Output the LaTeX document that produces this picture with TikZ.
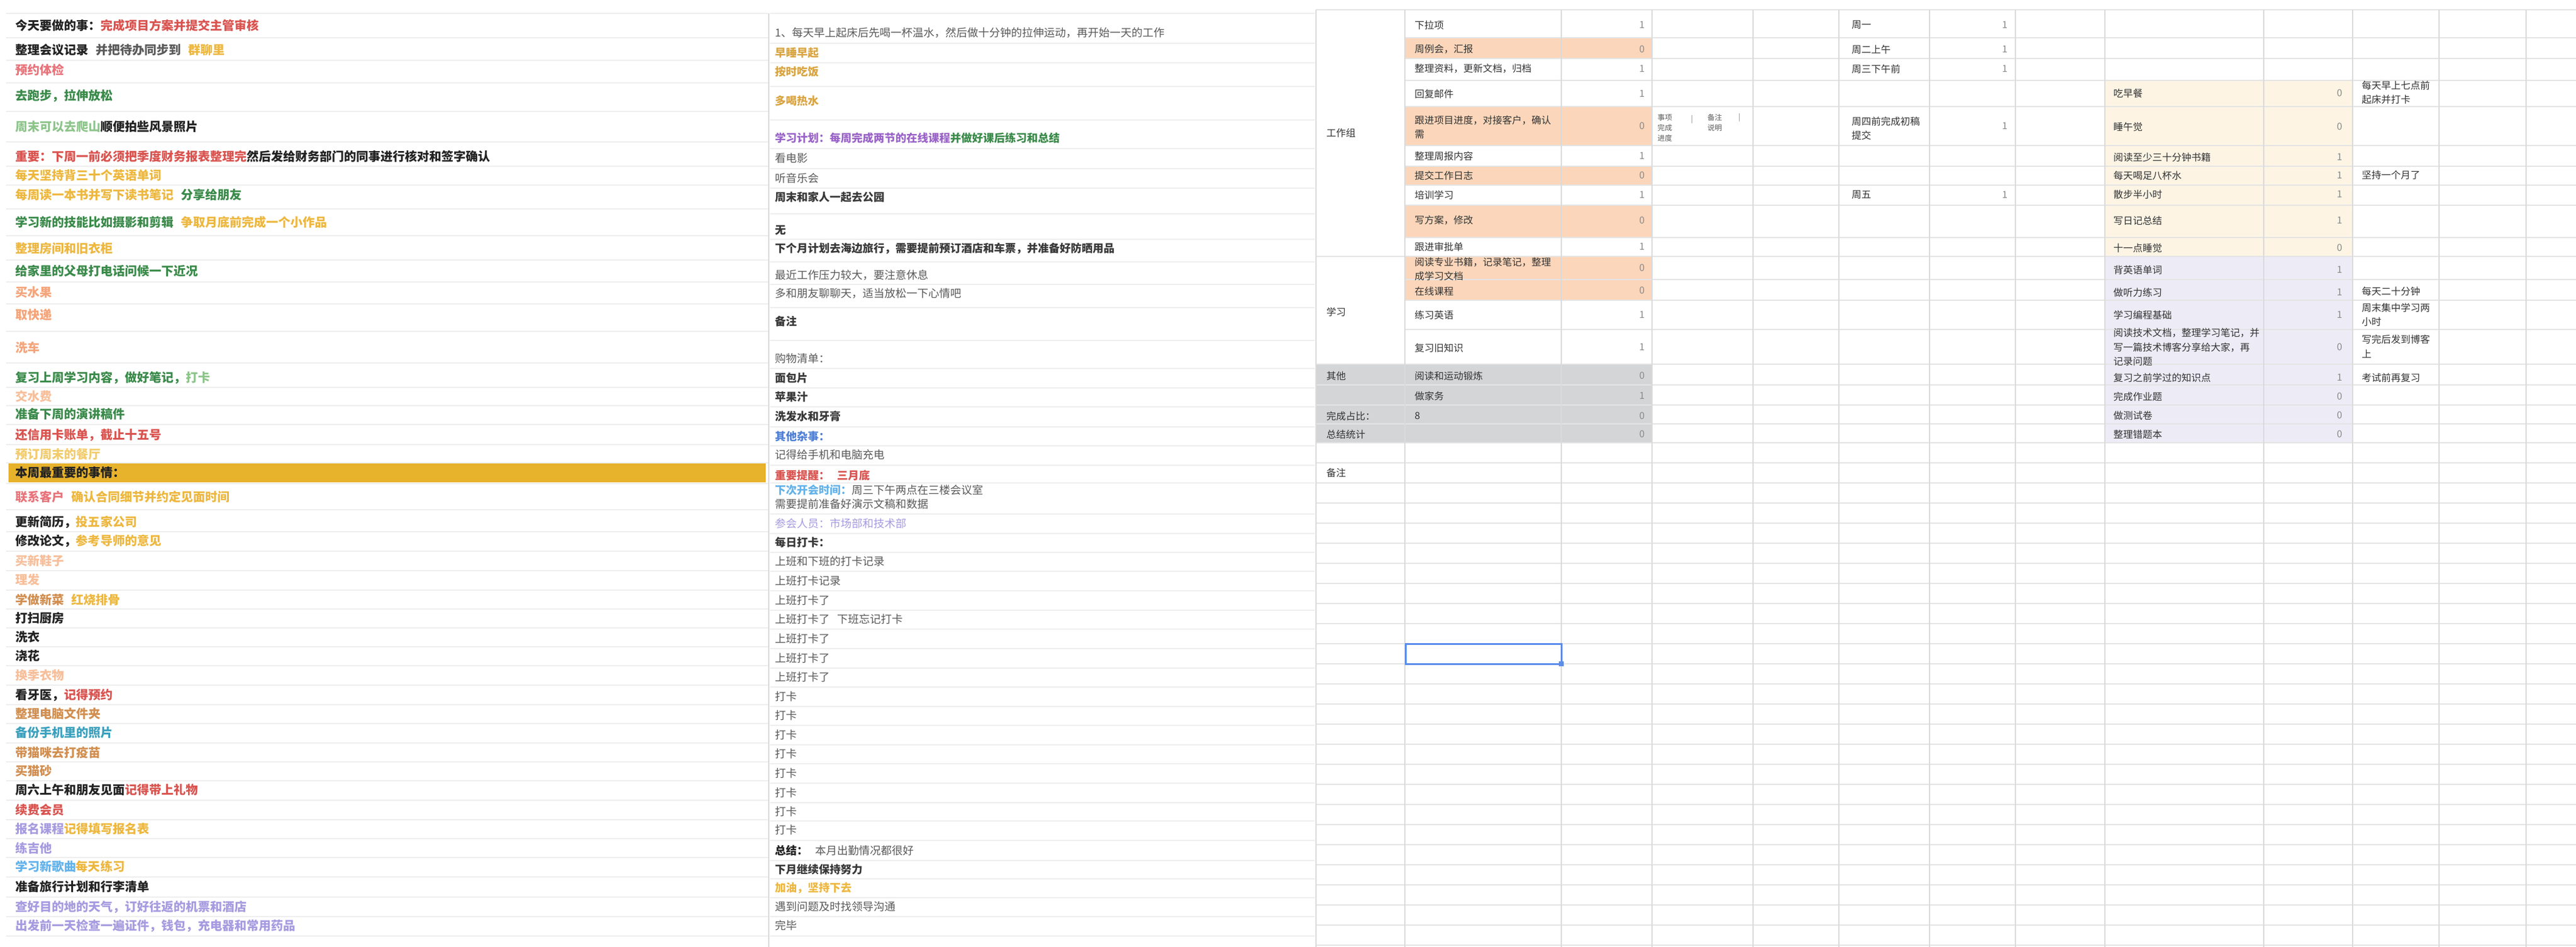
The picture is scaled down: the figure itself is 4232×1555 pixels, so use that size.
\documentclass[tikz,border=0pt]{standalone}
\usepackage{fontspec}
\setmainfont{Noto Sans CJK SC}
\definecolor{cK}{HTML}{222222}
\definecolor{cDK}{HTML}{383838}
\definecolor{cG}{HTML}{5A5A5A}
\definecolor{cT}{HTML}{333333}
\definecolor{cR}{HTML}{D9534F}
\definecolor{cPk}{HTML}{E8737A}
\definecolor{cY}{HTML}{EDB73E}
\definecolor{cLY}{HTML}{F2CB6B}
\definecolor{cBY}{HTML}{D9A441}
\definecolor{cGn}{HTML}{3A8A4A}
\definecolor{cLGn}{HTML}{8CC48A}
\definecolor{cO}{HTML}{F4A47A}
\definecolor{cLO}{HTML}{F7BE9A}
\definecolor{cBr}{HTML}{D18E4F}
\definecolor{cLv}{HTML}{A79BE0}
\definecolor{cPu}{HTML}{9A63C8}
\definecolor{cBl}{HTML}{4E7FD6}
\definecolor{cTl}{HTML}{3AA0BE}
\definecolor{cLB}{HTML}{62B2EA}
\definecolor{numc}{HTML}{8A8A8A}
\definecolor{fillO}{HTML}{FCD6BA}
\definecolor{fillGr}{HTML}{D4D5D7}
\definecolor{fillCr}{HTML}{FDF4E4}
\definecolor{fillLv}{HTML}{EDEBF6}
\definecolor{barY}{HTML}{E7B22C}
\definecolor{gridc}{HTML}{E4E4E4}
\definecolor{gridl}{HTML}{EEEEEE}
\definecolor{gridd}{HTML}{DADADA}
\definecolor{selB}{HTML}{5B8DEB}
\newcount\mync
\newcommand\mytx[4][]{\global\advance\mync by 1\relax
  \node[txt,#1] (t\the\mync) at (#2,#3) {#4};}
\newcommand\gp{\hspace{12pt}}
\newcommand\fA{\fontsize{20}{24}\selectfont\bfseries}
\newcommand\fB{\fontsize{18}{22}\selectfont}
\newcommand\fR{\fontsize{16}{23.5}\selectfont}
\newcommand\fS{\fontsize{12}{17}\selectfont}
\newcommand\rowA[2]{\mytx[font=\fA]{25}{#1}{#2}}
\newcommand\rowB[2]{\mytx[font=\fB]{1273}{#1}{#2}}
\newcommand\cellR[3]{\mytx[font=\fR,text=cT,align=left]{#1}{#2}{#3}}
\newcommand\numR[3]{\mytx[num]{#1}{#2}{#3}}
\begin{document}
\begin{tikzpicture}[x=1pt,y=-1pt,
  txt/.style={anchor=west,inner sep=0pt,outer sep=0pt},
  num/.style={anchor=east,text=numc,font=\fR},
  gridline/.style={draw=gridc,line width=1.3pt},
  softline/.style={draw=gridl,line width=1.3pt},
  colline/.style={draw=gridd,line width=1.3pt}]
\useasboundingbox (0,0) rectangle (4232,1555);
\fill[white] (0,0) rectangle (4232,1555);
% ---------- fills ----------
\fill[barY] (14,760) rectangle (1258,792);
\fill[fillO] (2308,62) rectangle (2714,96);
\fill[fillO] (2308,175) rectangle (2714,239);
\fill[fillO] (2308,273) rectangle (2714,304);
\fill[fillO] (2308,337) rectangle (2714,390);
\fill[fillO] (2308,421) rectangle (2714,493);
\fill[fillGr] (2162,598) rectangle (2714,727);
\fill[fillCr] (3458,132) rectangle (3865,421);
\fill[fillLv] (3458,421) rectangle (3865,727);
% ---------- grid: column A ----------
\foreach \y in {22,62,99,136,183,233,273,304,343,387,427,463,499,544,596,636,666,697,730,760,794,837,873,905,937,969,1000,1031,1062,1093,1125,1157,1188,1220,1251,1282,1314,1346,1377,1408,1440,1473,1505,1537}
  \draw[softline] (10,\y) -- (1262,\y);
% ---------- grid: column B ----------
\foreach \y in {22,71,103,142,197,244,277,309,351,393,430,467,505,559,605,637,668,701,732,764,793,844,876,907,938,970,1002,1033,1065,1097,1128,1160,1191,1223,1254,1286,1318,1348,1380,1413,1443,1474,1505,1537}
  \draw[softline] (1265,\y) -- (2160,\y);
\draw[colline] (1263,22) -- (1263,1555);
% ---------- grid: right table ----------
\foreach \y in {16,62,96,132,175,239,273,304,337,390,421,459,493,541,598,632,665,696,727,760,793,826,859,892,925,958,991,1024,1057,1090,1123,1156,1189,1222,1255,1288,1321,1354,1387,1420,1453,1486,1519,1552}
  \draw[gridline] (2308,\y) -- (4232,\y);
\foreach \y in {16,421,598,632,665,696,727,760,793,826,859,892,925,958,991,1024,1057,1090,1123,1156,1189,1222,1255,1288,1321,1354,1387,1420,1453,1486,1519,1552}
  \draw[gridline] (2162,\y) -- (2308,\y);
\foreach \x in {2162,2308,2565,2714,2880,3021,3170,3311,3458,3719,3865,4007,4150}
  \draw[colline] (\x,16) -- (\x,1555);
% ---------- column A text ----------
\rowA{42}{\textcolor{cK}{今天要做的事：}\textcolor{cR}{完成项目方案并提交主管审核}}
\rowA{82}{\textcolor{cK}{整理会议记录}\gp\textcolor{cG}{并把待办同步到}\gp\textcolor{cY}{群聊里}}
\rowA{115}{\textcolor{cPk}{预约体检}}
\rowA{157}{\textcolor{cGn}{去跑步，拉伸放松}}
\rowA{208}{\textcolor{cLGn}{周末可以去爬山}\textcolor{cK}{顺便拍些风景照片}}
\rowA{257}{\textcolor{cR}{重要：下周一前必须把季度财务报表整理完}\textcolor{cK}{然后发给财务部门的同事进行核对和签字确认}}
\rowA{288}{\textcolor{cY}{每天坚持背三十个英语单词}}
\rowA{320}{\textcolor{cY}{每周读一本书并写下读书笔记}\gp\textcolor{cGn}{分享给朋友}}
\rowA{365}{\textcolor{cGn}{学习新的技能比如摄影和剪辑}\gp\textcolor{cY}{争取月底前完成一个小作品}}
\rowA{408}{\textcolor{cY}{整理房间和旧衣柜}}
\rowA{445}{\textcolor{cGn}{给家里的父母打电话问候一下近况}}
\rowA{480}{\textcolor{cO}{买水果}}
\rowA{517}{\textcolor{cO}{取快递}}
\rowA{571}{\textcolor{cO}{洗车}}
\rowA{620}{\textcolor{cGn}{复习上周学习内容，做好笔记，}\textcolor{cLGn}{打卡}}
\rowA{651}{\textcolor{cLO}{交水费}}
\rowA{680}{\textcolor{cGn}{准备下周的演讲稿件}}
\rowA{714}{\textcolor{cR}{还信用卡账单，截止十五号}}
\rowA{746}{\textcolor{cLY}{预订周末的餐厅}}
\rowA{776}{\textcolor{cK}{本周最重要的事情：}}
\rowA{816}{\textcolor{cPk}{联系客户}\gp\textcolor{cY}{确认合同细节并约定见面时间}}
\rowA{857}{\textcolor{cK}{更新简历，}\textcolor{cY}{投五家公司}}
\rowA{888}{\textcolor{cK}{修改论文，}\textcolor{cY}{参考导师的意见}}
\rowA{921}{\textcolor{cLO}{买新鞋子}}
\rowA{952}{\textcolor{cLO}{理发}}
\rowA{985}{\textcolor{cBr}{学做新菜}\gp\textcolor{cY}{红烧排骨}}
\rowA{1015}{\textcolor{cK}{打扫厨房}}
\rowA{1046}{\textcolor{cK}{洗衣}}
\rowA{1077}{\textcolor{cK}{浇花}}
\rowA{1109}{\textcolor{cLO}{换季衣物}}
\rowA{1141}{\textcolor{cK}{看牙医，}\textcolor{cR}{记得预约}}
\rowA{1172}{\textcolor{cBr}{整理电脑文件夹}}
\rowA{1203}{\textcolor{cTl}{备份手机里的照片}}
\rowA{1236}{\textcolor{cBr}{带猫咪去打疫苗}}
\rowA{1266}{\textcolor{cBr}{买猫砂}}
\rowA{1297}{\textcolor{cK}{周六上午和朋友见面}\textcolor{cR}{记得带上礼物}}
\rowA{1330}{\textcolor{cR}{续费会员}}
\rowA{1361}{\textcolor{cLv}{报名课程}\textcolor{cY}{记得填写报名表}}
\rowA{1393}{\textcolor{cLv}{练吉他}}
\rowA{1423}{\textcolor{cLB}{学习新歌曲}\textcolor{cY}{每天练习}}
\rowA{1456}{\textcolor{cK}{准备旅行计划和行李清单}}
\rowA{1489}{\textcolor{cLv}{查好目的地的天气，订好往返的机票和酒店}}
\rowA{1520}{\textcolor{cLv}{出发前一天检查一遍证件，钱包，充电器和常用药品}}
% ---------- column B text ----------
\rowB{54}{\textcolor{cG}{1、每天早上起床后先喝一杯温水，然后做十分钟的拉伸运动，再开始一天的工作}}
\rowB{87}{\textcolor{cBY}{\bfseries 早睡早起}}
\rowB{118}{\textcolor{cBY}{\bfseries 按时吃饭}}
\rowB{166}{\textcolor{cBY}{\bfseries 多喝热水}}
\rowB{227}{\textcolor{cPu}{\bfseries 学习计划：每周完成两节的在线课程}\textcolor{cGn}{\bfseries 并做好课后练习和总结}}
\rowB{260}{\textcolor{cG}{看电影}}
\rowB{293}{\textcolor{cG}{听音乐会}}
\rowB{324}{\textcolor{cDK}{\bfseries 周末和家人一起去公园}}
\rowB{378}{\textcolor{cDK}{\bfseries 无}}
\rowB{408}{\textcolor{cDK}{\bfseries 下个月计划去海边旅行，需要提前预订酒店和车票，并准备好防晒用品}}
\rowB{452}{\textcolor{cG}{最近工作压力较大，要注意休息}}
\rowB{482}{\textcolor{cG}{多和朋友聊聊天，适当放松一下心情吧}}
\rowB{528}{\textcolor{cDK}{\bfseries 备注}}
\rowB{589}{\textcolor{cG}{购物清单：}}
\rowB{621}{\textcolor{cDK}{\bfseries 面包片}}
\rowB{652}{\textcolor{cDK}{\bfseries 苹果汁}}
\rowB{684}{\textcolor{cDK}{\bfseries 洗发水和牙膏}}
\rowB{717}{\textcolor{cBl}{\bfseries 其他杂事：}}
\rowB{747}{\textcolor{cG}{记得给手机和电脑充电}}
\rowB{781}{\textcolor{cR}{\bfseries 重要提醒：}\gp\textcolor{cR}{\bfseries 三月底}}
\rowB{805}{\textcolor{cLB}{\bfseries 下次开会时间：}\textcolor{cG}{周三下午两点在三楼会议室}}
\rowB{828}{\textcolor{cG}{需要提前准备好演示文稿和数据}}
\rowB{860}{\textcolor{cLv}{参会人员：市场部和技术部}}
\rowB{891}{\textcolor{cDK}{\bfseries 每日打卡：}}
\rowB{922}{\textcolor{cG}{上班和下班的打卡记录}}
\rowB{954}{\textcolor{cG}{上班打卡记录}}
\rowB{986}{\textcolor{cG}{上班打卡了}}
\rowB{1017}{\textcolor{cG}{上班打卡了}\gp\textcolor{cG}{下班忘记打卡}}
\rowB{1049}{\textcolor{cG}{上班打卡了}}
\rowB{1081}{\textcolor{cG}{上班打卡了}}
\rowB{1112}{\textcolor{cG}{上班打卡了}}
\rowB{1144}{\textcolor{cG}{打卡}}
\rowB{1175}{\textcolor{cG}{打卡}}
\rowB{1207}{\textcolor{cG}{打卡}}
\rowB{1238}{\textcolor{cG}{打卡}}
\rowB{1270}{\textcolor{cG}{打卡}}
\rowB{1302}{\textcolor{cG}{打卡}}
\rowB{1333}{\textcolor{cG}{打卡}}
\rowB{1363}{\textcolor{cG}{打卡}}
\rowB{1397}{\textcolor{cK}{\bfseries 总结：}\gp\textcolor{cG}{本月出勤情况都很好}}
\rowB{1428}{\textcolor{cDK}{\bfseries 下月继续保持努力}}
\rowB{1458}{\textcolor{cY}{\bfseries 加油，坚持下去}}
\rowB{1489}{\textcolor{cG}{遇到问题及时找领导沟通}}
\rowB{1520}{\textcolor{cG}{完毕}}
% ---------- right table: column 1 ----------
\cellR{2179}{218}{工作组}
\cellR{2179}{512}{学习}
\cellR{2179}{617}{其他}
\cellR{2179}{683}{完成占比：}
\cellR{2179}{713}{总结统计}
\cellR{2179}{776}{备注}
% ---------- right table: column 2 ----------
\cellR{2324}{41}{下拉项}
\cellR{2324}{81}{周例会，汇报}
\cellR{2324}{113}{整理资料，更新文档，归档}
\cellR{2324}{154}{回复邮件}
\cellR{2324}{209}{跟进项目进度，对接客户，确认\\需}
\cellR{2324}{256}{整理周报内容}
\cellR{2324}{288}{提交工作日志}
\cellR{2324}{320}{培训学习}
\cellR{2324}{362}{写方案，修改}
\cellR{2324}{405}{跟进审批单}
\cellR{2324}{442}{阅读专业书籍，记录笔记，整理\\成学习文档}
\cellR{2324}{478}{在线课程}
\cellR{2324}{517}{练习英语}
\cellR{2324}{571}{复习旧知识}
\cellR{2324}{617}{阅读和运动锻炼}
\cellR{2324}{650}{做家务}
\cellR{2324}{683}{8}
% ---------- right table: column 3 numbers ----------
\numR{2702}{41}{1}
\numR{2702}{81}{0}
\numR{2702}{113}{1}
\numR{2702}{154}{1}
\numR{2702}{207}{0}
\numR{2702}{256}{1}
\numR{2702}{288}{0}
\numR{2702}{320}{1}
\numR{2702}{362}{0}
\numR{2702}{405}{1}
\numR{2702}{440}{0}
\numR{2702}{477}{0}
\numR{2702}{517}{1}
\numR{2702}{570}{1}
\numR{2702}{617}{0}
\numR{2702}{650}{1}
\numR{2702}{683}{0}
\numR{2702}{713}{0}
% ---------- right table: column 4 small notes ----------
\mytx[font=\fS,text=cG,align=left]{2723}{210}{事项\\完成\\进度}
\mytx[font=\fS,text=numc]{2778}{196}{|}
\mytx[font=\fS,text=cG,align=left]{2805}{201}{备注\\说明}
\mytx[font=\fS,text=numc]{2856}{193}{|}
% ---------- right table: column 6/7 ----------
\cellR{3042}{41}{周一}
\cellR{3042}{81}{周二上午}
\cellR{3042}{113}{周三下午前}
\cellR{3042}{211}{周四前完成初稿\\提交}
\cellR{3042}{320}{周五}
\numR{3298}{41}{1}
\numR{3298}{81}{1}
\numR{3298}{113}{1}
\numR{3298}{207}{1}
\numR{3298}{320}{1}
% ---------- right table: cream / lavender block ----------
\cellR{3472}{153}{吃早餐}
\cellR{3472}{208}{睡午觉}
\cellR{3472}{258}{阅读至少三十分钟书籍}
\cellR{3472}{288}{每天喝足八杯水}
\cellR{3472}{319}{散步半小时}
\cellR{3472}{362}{写日记总结}
\cellR{3472}{407}{十一点睡觉}
\cellR{3472}{443}{背英语单词}
\cellR{3472}{480}{做听力练习}
\cellR{3472}{517}{学习编程基础}
\cellR{3472}{570}{阅读技术文档，整理学习笔记，并\\写一篇技术博客分享给大家，再\\记录问题}
\cellR{3472}{620}{复习之前学过的知识点}
\cellR{3472}{651}{完成作业题}
\cellR{3472}{682}{做测试卷}
\cellR{3472}{713}{整理错题本}
\numR{3848}{153}{0}
\numR{3848}{208}{0}
\numR{3848}{258}{1}
\numR{3848}{288}{1}
\numR{3848}{319}{1}
\numR{3848}{362}{1}
\numR{3848}{407}{0}
\numR{3848}{443}{1}
\numR{3848}{480}{1}
\numR{3848}{517}{1}
\numR{3848}{570}{0}
\numR{3848}{620}{1}
\numR{3848}{651}{0}
\numR{3848}{682}{0}
\numR{3848}{713}{0}
% ---------- right table: notes column ----------
\cellR{3880}{152}{每天早上七点前\\起床并打卡}
\cellR{3880}{287}{坚持一个月了}
\cellR{3880}{478}{每天二十分钟}
\cellR{3880}{517}{周末集中学习两\\小时}
\cellR{3880}{569}{写完后发到博客\\上}
\cellR{3880}{620}{考试前再复习}
% ---------- selected cell ----------
\draw[selB,line width=3pt] (2309,1057) rectangle (2565,1090);
\fill[selB] (2561,1086) rectangle (2569,1094);
\end{tikzpicture}
\end{document}
